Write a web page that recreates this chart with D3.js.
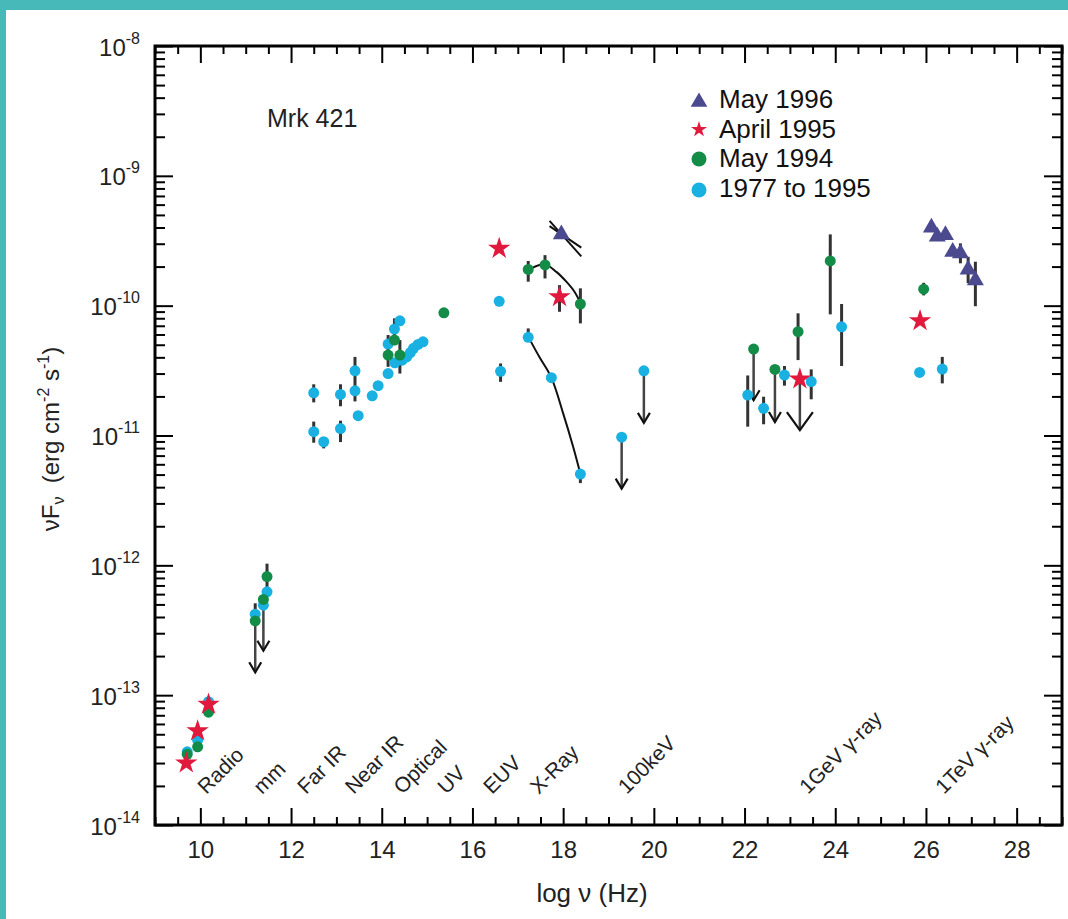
<!DOCTYPE html>
<html>
<head>
<meta charset="utf-8">
<script src="https://cdn.jsdelivr.net/npm/d3@7"></script>
<style>
  body { margin: 0; background: #fff; }
  svg { display: block; }
</style>
</head>
<body>
<svg id="chart" width="1068" height="919"></svg>
<script>
// ---- data (log nu [Hz], nuFnu [erg cm^-2 s^-1]) ----
const xTicks = [10, 12, 14, 16, 18, 20, 22, 24, 26, 28];
const yDecades = [-14, -13, -12, -11, -10, -9, -8];

const legendLabels = ["May 1996", "April 1995", "May 1994", "1977 to 1995"];

const regionLabels = ["Radio", "mm", "Far IR", "Near IR", "Optical", "UV", "EUV", "X-Ray", "100keV", "1GeV \u03b3-ray", "1TeV \u03b3-ray"];
const regionNu = [10.13, 11.36, 12.33, 13.38, 14.45, 15.42, 16.43, 17.46, 19.40, 23.40, 26.40];

// May 1996 (triangles)
const may1996 = [[17.96, 3.54e-10], [26.12, 4.0e-10], [26.25, 3.4e-10], [26.43, 3.5e-10], [26.59, 2.6e-10], [26.76, 2.53e-10], [26.93, 1.9e-10], [27.09, 1.57e-10]];
const may1996Err = [[26.76, 2.12e-10, 3.02e-10], [26.93, 1.49e-10, 2.38e-10], [27.09, 9.9e-11, 2.18e-10]];
const may1996Bowtie = [[[17.70, 4.5e-10], [18.40, 2.4e-10]], [[17.70, 4.1e-10], [18.40, 2.8e-10]]];

// April 1995 (stars)
const april1995 = [[9.69, 3.0e-14], [9.94, 5.3e-14], [10.18, 8.5e-14], [16.59, 2.76e-10], [17.92, 1.17e-10], [23.22, 2.72e-11], [25.87, 7.65e-11]];
const april1995Err = [[17.92, 8.97e-11, 1.44e-10]];
const april1995Limits = [[23.22, 2.72e-11, 1.1e-11]];

// May 1994 (green)
const may1994 = [[9.71, 3.5e-14], [9.94, 4.0e-14], [10.18, 7.4e-14], [11.21, 3.73e-13], [11.39, 5.46e-13], [11.47, 8.2e-13],
  [14.14, 4.16e-11], [14.28, 5.43e-11], [14.40, 4.16e-11], [15.37, 8.8e-11], [17.23, 1.9e-10], [17.60, 2.06e-10], [18.38, 1.03e-10],
  [22.20, 4.63e-11], [22.67, 3.23e-11], [23.18, 6.3e-11], [23.89, 2.21e-10], [25.95, 1.34e-10]];
const may1994Err = [[11.47, 6.0e-13, 1.03e-12], [14.14, 3.38e-11, 5.94e-11], [14.28, 4.97e-11, 7.98e-11], [14.40, 3.0e-11, 5.43e-11],
  [17.23, 1.53e-10, 2.21e-10], [17.60, 1.62e-10, 2.45e-10], [18.38, 7.3e-11, 1.36e-10], [23.18, 3.81e-11, 8.73e-11],
  [23.89, 8.57e-11, 3.54e-10], [25.95, 1.2e-10, 1.5e-10]];
const may1994Limits = [[11.21, 3.73e-13, 1.5e-13], [22.20, 4.63e-11, 1.87e-11], [22.67, 3.23e-11, 1.27e-11]];
const may1994Curve = [[17.30, 1.94e-10], [17.60, 2.08e-10], [17.85, 1.82e-10], [18.07, 1.53e-10], [18.25, 1.28e-10], [18.38, 1.05e-10]];

// 1977 to 1995 (cyan)
const archive = [[9.71, 3.66e-14], [9.94, 4.5e-14], [10.18, 8.9e-14], [11.21, 4.2e-13], [11.39, 4.93e-13], [11.47, 6.25e-13],
  [12.50, 2.13e-11], [12.50, 1.07e-11], [12.72, 8.95e-12], [13.09, 2.07e-11], [13.09, 1.13e-11], [13.41, 3.15e-11], [13.41, 2.21e-11],
  [13.48, 1.42e-11], [13.79, 2.02e-11], [13.92, 2.42e-11], [14.14, 3.0e-11], [14.14, 5.06e-11], [14.28, 6.6e-11], [14.40, 7.65e-11],
  [14.29, 3.63e-11], [14.45, 3.8e-11], [14.55, 4.03e-11], [14.63, 4.35e-11], [14.70, 4.69e-11], [14.80, 5.03e-11], [14.91, 5.27e-11],
  [16.59, 1.08e-10], [16.62, 3.12e-11], [17.23, 5.7e-11], [17.74, 2.79e-11], [18.38, 5.05e-12], [19.29, 9.7e-12], [19.78, 3.15e-11],
  [22.07, 2.05e-11], [22.42, 1.62e-11], [22.88, 2.92e-11], [23.47, 2.6e-11], [24.14, 6.87e-11], [25.86, 3.06e-11], [26.36, 3.25e-11]];
const archiveErr = [[11.21, 4.2e-13, 5.1e-13], [12.50, 1.80e-11, 2.48e-11], [12.50, 8.8e-12, 1.28e-11], [12.72, 7.96e-12, 9.5e-12],
  [13.09, 1.68e-11, 2.48e-11], [13.09, 8.9e-12, 1.3e-11], [13.41, 1.83e-11, 4.03e-11], [16.62, 2.59e-11, 3.59e-11],
  [17.23, 5.7e-11, 6.68e-11], [18.38, 4.3e-12, 5.5e-12], [22.07, 1.17e-11, 2.9e-11], [22.42, 1.22e-11, 1.99e-11],
  [22.88, 2.42e-11, 3.43e-11], [23.47, 1.9e-11, 3.23e-11], [24.14, 3.43e-11, 1.03e-10], [26.36, 2.52e-11, 4.03e-11]];
const archiveLimits = [[11.39, 4.93e-13, 2.2e-13], [19.29, 9.7e-12, 3.9e-12], [19.78, 3.15e-11, 1.25e-11]];
const archiveCurve = [[17.25, 5.6e-11], [17.48, 4.0e-11], [17.74, 2.79e-11], [18.00, 1.48e-11], [18.22, 8.2e-12], [18.36, 5.4e-12]];

// ---- colours ----
const cTri = "#4b4a8f", cStar = "#e0193d", cGreen = "#138c48", cCyan = "#19b1e2";
const narrow = "'Liberation Sans Narrow', 'Liberation Sans', Arial, sans-serif";
const regular = "'Liberation Sans', Arial, sans-serif";

const svg = d3.select("#chart");
const W = 1068, H = 919;
const L = 155, R = 1062, T = 46, B = 825;

// teal frame of the figure
svg.append("rect").attr("width", W).attr("height", H).attr("fill", "#fff");
svg.append("rect").attr("x", 0).attr("y", 0).attr("width", W).attr("height", 10).attr("fill", "#47b9b8");
svg.append("rect").attr("x", 0).attr("y", 0).attr("width", 6).attr("height", H).attr("fill", "#47b9b8");

const x = d3.scaleLinear().domain([9, 29]).range([L, R]);
const y = d3.scaleLog().domain([1e-14, 1e-8]).range([B, T]);

const xMinor = d3.range(9, 29.01, 0.5).filter(v => !xTicks.includes(v));
const yMajor = yDecades.map(e => Math.pow(10, e));
const yMinor = [];
yDecades.slice(0, -1).forEach(e => { for (let m = 2; m <= 9; m++) yMinor.push(m * Math.pow(10, e)); });

function drawAxis(axis, tr) {
  const g = svg.append("g").attr("transform", tr).call(axis);
  g.select(".domain").remove();
  g.selectAll(".tick line").attr("stroke", "#000").attr("stroke-width", 2);
  return g;
}

// bottom
const gx = drawAxis(d3.axisBottom(x).tickValues(xTicks).tickSize(-17).tickPadding(16).tickFormat(d3.format("d")), `translate(0,${B})`);
gx.selectAll(".tick text").attr("font-family", narrow).attr("font-size", 24).attr("fill", "#222");
drawAxis(d3.axisBottom(x).tickValues(xMinor).tickSize(-8).tickFormat(""), `translate(0,${B})`);
// top
drawAxis(d3.axisTop(x).tickValues(xTicks).tickSize(-17).tickFormat(""), `translate(0,${T})`);
drawAxis(d3.axisTop(x).tickValues(xMinor).tickSize(-8).tickFormat(""), `translate(0,${T})`);
// left
const gy = drawAxis(d3.axisLeft(y).tickValues(yMajor).tickSize(-18).tickPadding(15).tickFormat(""), `translate(${L},0)`);
gy.selectAll(".tick text").each(function (d) {
  const t = d3.select(this).attr("font-family", narrow).attr("font-size", 24).attr("fill", "#222").attr("dy", "0.38em");
  t.append("tspan").text("10");
  t.append("tspan").attr("dy", -12).attr("font-size", 16).text(String(Math.round(Math.log10(d))));
});
drawAxis(d3.axisLeft(y).tickValues(yMinor).tickSize(-10).tickFormat(""), `translate(${L},0)`);
// right
drawAxis(d3.axisRight(y).tickValues(yMajor).tickSize(-18).tickFormat(""), `translate(${R},0)`);
drawAxis(d3.axisRight(y).tickValues(yMinor).tickSize(-10).tickFormat(""), `translate(${R},0)`);

svg.append("rect").attr("x", L).attr("y", T).attr("width", R - L).attr("height", B - T)
  .attr("fill", "none").attr("stroke", "#000").attr("stroke-width", 3);

// axis titles
svg.append("text").attr("x", 592).attr("y", 902).attr("text-anchor", "middle")
  .attr("font-family", regular).attr("font-size", 26).attr("fill", "#222").text("log \u03bd (Hz)");

const yt = svg.append("text").attr("transform", "translate(59,439) rotate(-90)").attr("text-anchor", "middle")
  .attr("font-family", regular).attr("font-size", 24).attr("fill", "#222");
yt.append("tspan").text("\u03bdF");
yt.append("tspan").attr("font-size", 16).attr("dy", 5).text("\u03bd");
yt.append("tspan").attr("dy", -5).text("\u00a0\u00a0(erg cm");
yt.append("tspan").attr("font-size", 16).attr("dy", -10).text("-2");
yt.append("tspan").attr("dy", 10).text(" s");
yt.append("tspan").attr("font-size", 16).attr("dy", -10).text("-1");
yt.append("tspan").attr("dy", 10).text(")");

svg.append("text").attr("x", 267).attr("y", 127).attr("font-family", regular).attr("font-size", 25)
  .attr("fill", "#222").text("Mrk 421");

// region labels
svg.append("g").selectAll("text").data(regionLabels).join("text")
  .attr("transform", (d, i) => `translate(${x(regionNu[i])},795) rotate(-45)`)
  .attr("font-family", regular).attr("font-size", 21).attr("fill", "#222")
  .text(d => d);

// error bars and upper limits
const plot = svg.append("g");
function errBars(data) {
  plot.append("g").selectAll("line").data(data).join("line")
    .attr("x1", d => x(d[0])).attr("x2", d => x(d[0]))
    .attr("y1", d => y(d[1])).attr("y2", d => y(d[2]))
    .attr("stroke", "#333").attr("stroke-width", 3);
}
function limits(data, hw, hh) {
  const g = plot.append("g");
  g.selectAll("line").data(data).join("line")
    .attr("x1", d => x(d[0])).attr("x2", d => x(d[0]))
    .attr("y1", d => y(d[1])).attr("y2", d => y(d[2]))
    .attr("stroke", "#444").attr("stroke-width", 2.5);
  g.selectAll("path").data(data).join("path")
    .attr("d", d => `M${x(d[0]) - hw},${y(d[2]) - hh}L${x(d[0])},${y(d[2])}L${x(d[0]) + hw},${y(d[2]) - hh}`)
    .attr("fill", "none").attr("stroke", "#111").attr("stroke-width", 2.2);
}
errBars(archiveErr);
errBars(may1994Err);
errBars(april1995Err);
errBars(may1996Err);
limits(archiveLimits, 6, 10);
limits(may1994Limits, 6, 10);
limits(april1995Limits, 13, 18);

const line = d3.line().x(d => x(d[0])).y(d => y(d[1])).curve(d3.curveCatmullRom);
[may1994Curve, archiveCurve].forEach(c => {
  plot.append("path").datum(c).attr("d", line).attr("fill", "none").attr("stroke", "#111").attr("stroke-width", 2);
});
may1996Bowtie.forEach(c => {
  plot.append("path").datum(c).attr("d", d3.line().x(d => x(d[0])).y(d => y(d[1])))
    .attr("fill", "none").attr("stroke", "#111").attr("stroke-width", 2);
});

// markers
function dots(data, color) {
  plot.append("g").selectAll("circle").data(data).join("circle")
    .attr("cx", d => x(d[0])).attr("cy", d => y(d[1])).attr("r", 5.5).attr("fill", color);
}
function symbols(data, type, size, color) {
  plot.append("g").selectAll("path").data(data).join("path")
    .attr("transform", d => `translate(${x(d[0])},${y(d[1])})`)
    .attr("d", d3.symbol().type(type).size(size)).attr("fill", color);
}
dots(archive, cCyan);
dots(may1994, cGreen);
symbols(april1995, d3.symbolStar, 155, cStar);
symbols(may1996, d3.symbolTriangle, 125, cTri);

// legend
const legendY = [108, 137.5, 167, 197];
const lg = svg.append("g");
lg.append("path").attr("transform", `translate(699,${legendY[0] - 6})`).attr("d", d3.symbol().type(d3.symbolTriangle).size(120)).attr("fill", cTri);
lg.append("path").attr("transform", `translate(699,${legendY[1] - 8})`).attr("d", d3.symbol().type(d3.symbolStar).size(80)).attr("fill", cStar);
lg.append("circle").attr("cx", 699).attr("cy", legendY[2] - 8).attr("r", 7.5).attr("fill", cGreen);
lg.append("circle").attr("cx", 699).attr("cy", legendY[3] - 7).attr("r", 7.5).attr("fill", cCyan);
lg.selectAll("text").data(legendLabels).join("text")
  .attr("x", 719).attr("y", (d, i) => legendY[i])
  .attr("font-family", regular).attr("font-size", 26).attr("fill", "#111")
  .text(d => d);
</script>
</body>
</html>
